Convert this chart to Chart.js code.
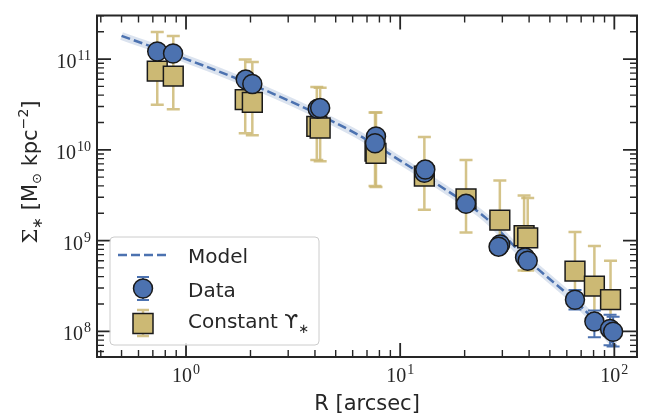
<!DOCTYPE html>
<html>
<head>
<meta charset="utf-8">
<script src="https://cdn.jsdelivr.net/npm/chart.js@4.4.1/dist/chart.umd.min.js"></script>
<style>
  html, body { margin: 0; padding: 0; background: #fff; }
  #wrap { width: 655px; height: 417px; }
</style>
</head>
<body>
<div id="wrap"><canvas id="chart" width="655" height="417"></canvas></div>
<script>
// radius in arcsec, surface density in Msun / kpc^2
const modelR = [0.5, 1.0, 1.585, 2.512, 3.98, 6.31, 10, 15.85, 25.1, 39.8, 63.1, 79.4, 100];
const modelSigma = [1.8e11, 1.0e11, 6.6e10, 4.22e10, 2.57e10, 1.48e10, 7.6e9, 3.8e9, 1.78e9, 6.0e8, 2.34e8, 1.38e8, 7.1e7];

const dataR = [0.734, 0.870, 1.90, 2.04, 4.12, 4.23, 7.71, 7.63, 12.97, 13.1, 20.3, 29.3, 28.8, 38.3, 39.4, 65.5, 80.7, 95.5, 98.7];
const dataSigma = [1.21e11, 1.15e11, 5.94e10, 5.31e10, 2.83e10, 2.88e10, 1.40e10, 1.18e10, 5.57e9, 6.05e9, 2.54e9, 9.06e8, 8.57e8, 6.52e8, 6.0e8, 2.23e8, 1.28e8, 1.06e8, 9.9e7];
const dataHi = [1.33e11, 1.26e11, 6.5e10, 5.8e10, 3.1e10, 3.15e10, 1.53e10, 1.29e10, 6.1e9, 6.6e9, 2.8e9, 1.0e9, 9.4e8, 7.2e8, 6.6e8, 2.85e8, 1.70e8, 1.52e8, 1.45e8];
const dataLo = [1.10e11, 1.05e11, 5.4e10, 4.85e10, 2.58e10, 2.62e10, 1.28e10, 1.08e10, 5.1e9, 5.5e9, 2.3e9, 8.2e8, 7.8e8, 5.9e8, 5.4e8, 1.74e8, 8.6e7, 7.0e7, 6.8e7];

const constR = [0.734, 0.872, 1.89, 2.04, 4.08, 4.23, 7.63, 7.71, 12.97, 20.3, 29.2, 37.9, 39.4, 65.5, 80.7, 96.0];
const constSigma = [7.38e10, 6.47e10, 3.57e10, 3.34e10, 1.81e10, 1.74e10, 9.7e9, 9.14e9, 5.13e9, 2.88e9, 1.68e9, 1.13e9, 1.07e9, 4.6e8, 3.15e8, 2.23e8];
const constHi = [1.99e11, 1.79e11, 9.86e10, 9.3e10, 4.92e10, 4.84e10, 2.57e10, 2.57e10, 1.38e10, 7.74e9, 4.6e9, 3.13e9, 2.95e9, 1.24e9, 8.7e8, 6.0e8];
const constLo = [3.13e10, 2.79e10, 1.52e10, 1.45e10, 7.7e9, 7.5e9, 4.0e9, 3.9e9, 2.19e9, 1.23e9, 8.0e8, 4.69e8, 4.69e8, 2.0e8, 1.3e8, 1.0e8];

const xTicks = [1, 10, 100];
const yTicks = [1e8, 1e9, 1e10, 1e11];
const xRange = [0.384, 127.6];
const yRange = [5.21e7, 3.02e11];

const BLUE = '#4C72B0';
const TAN = '#CCB974';
const INK = '#262626';
const EDGE = '#1a1a1a';

const pts = (xs, ys) => xs.map((x, i) => ({ x: x, y: ys[i] }));

// vertical error bars drawn just under their own markers
const errorBars = {
    id: 'errorBars',
    beforeDatasetDraw(chart, args) {
        const ds = chart.data.datasets[args.index];
        if (!ds.errLo) return;
        const ys = chart.scales.y;
        const ctx = chart.ctx;
        ctx.save();
        ctx.strokeStyle = ds.errColor;
        ctx.lineWidth = ds.errWidth;
        args.meta.data.forEach((p, i) => {
            const top = ys.getPixelForValue(ds.errHi[i]);
            const bot = ys.getPixelForValue(ds.errLo[i]);
            ctx.beginPath();
            ctx.moveTo(p.x, top); ctx.lineTo(p.x, bot);
            ctx.moveTo(p.x - 6.5, top); ctx.lineTo(p.x + 6.5, top);
            ctx.moveTo(p.x - 6.5, bot); ctx.lineTo(p.x + 6.5, bot);
            ctx.stroke();
        });
        ctx.restore();
    }
};

function drawPow(ctx, exp, x, y, align) {
    ctx.font = '20px "Liberation Serif"';
    const wb = ctx.measureText('10').width;
    ctx.font = '14px "Liberation Serif"';
    const we = ctx.measureText(exp).width;
    const total = wb + we + 1;
    const x0 = align === 'center' ? x - total / 2 : x - total;
    ctx.textAlign = 'left';
    ctx.textBaseline = 'alphabetic';
    ctx.font = '20px "Liberation Serif"';
    ctx.fillText('10', x0, y);
    ctx.font = '14px "Liberation Serif"';
    ctx.fillText(exp, x0 + wb + 1, y - 8);
}

function drawPieces(ctx, pieces, x0, y0) {
    let x = x0;
    pieces.forEach(p => {
        ctx.font = p.font;
        ctx.fillText(p.t, x, y0 + (p.dy || 0));
        x += ctx.measureText(p.t).width;
    });
    return x;
}

function piecesWidth(ctx, pieces) {
    let w = 0;
    pieces.forEach(p => { ctx.font = p.font; w += ctx.measureText(p.t).width; });
    return w;
}

const frame = {
    id: 'frame',
    afterDraw(chart) {
        const ctx = chart.ctx;
        const a = chart.chartArea;
        const xs = chart.scales.x, ys = chart.scales.y;
        ctx.save();
        ctx.strokeStyle = INK;
        ctx.fillStyle = INK;

        // inward ticks on all four sides
        for (let e = -1; e <= 2; e++) {
            for (let k = 1; k <= 9; k++) {
                const v = k * Math.pow(10, e);
                if (v < xRange[0] || v > xRange[1]) continue;
                const px = xs.getPixelForValue(v);
                const len = k === 1 ? 14 : 7;
                ctx.lineWidth = k === 1 ? 1.8 : 1.4;
                ctx.beginPath();
                ctx.moveTo(px, a.bottom); ctx.lineTo(px, a.bottom - len);
                ctx.moveTo(px, a.top); ctx.lineTo(px, a.top + len);
                ctx.stroke();
            }
        }
        for (let e = 7; e <= 11; e++) {
            for (let k = 1; k <= 9; k++) {
                const v = k * Math.pow(10, e);
                if (v < yRange[0] || v > yRange[1]) continue;
                const py = ys.getPixelForValue(v);
                const len = k === 1 ? 14 : 7;
                ctx.lineWidth = k === 1 ? 1.8 : 1.4;
                ctx.beginPath();
                ctx.moveTo(a.left, py); ctx.lineTo(a.left + len, py);
                ctx.moveTo(a.right, py); ctx.lineTo(a.right - len, py);
                ctx.stroke();
            }
        }

        ctx.lineWidth = 2;
        ctx.strokeRect(a.left, a.top, a.right - a.left, a.bottom - a.top);

        // tick labels
        xTicks.forEach(v => drawPow(ctx, String(Math.round(Math.log10(v))), xs.getPixelForValue(v), a.bottom + 25, 'center'));
        yTicks.forEach(v => drawPow(ctx, String(Math.round(Math.log10(v))), a.left - 6, ys.getPixelForValue(v) + 9, 'right'));

        // y axis title
        const ytitle = [
            { t: 'Σ', font: '21px "DejaVu Serif"' },
            { t: '∗', font: '14px "DejaVu Sans"', dy: 5 },
            { t: ' [M', font: '21px "DejaVu Sans"' },
            { t: '⊙', font: '13px "DejaVu Sans"', dy: 4 },
            { t: ' kpc', font: '21px "DejaVu Sans"' },
            { t: '−2', font: '14px "DejaVu Sans"', dy: -9 },
            { t: ']', font: '21px "DejaVu Sans"' }
        ];
        ctx.save();
        ctx.translate(37, 172);
        ctx.rotate(-Math.PI / 2);
        ctx.textAlign = 'left';
        ctx.textBaseline = 'alphabetic';
        drawPieces(ctx, ytitle, -piecesWidth(ctx, ytitle) / 2, 0);
        ctx.restore();

        // legend
        const lx = 110, ly = 237, lw = 209, lh = 108;
        ctx.beginPath();
        ctx.roundRect(lx, ly, lw, lh, 4);
        ctx.fillStyle = 'rgba(255,255,255,0.85)';
        ctx.fill();
        ctx.strokeStyle = '#cccccc';
        ctx.lineWidth = 1;
        ctx.stroke();

        // model handle
        ctx.strokeStyle = BLUE;
        ctx.lineWidth = 2.5;
        ctx.setLineDash([9, 4]);
        ctx.beginPath();
        ctx.moveTo(118, 255); ctx.lineTo(168, 255);
        ctx.stroke();
        ctx.setLineDash([]);

        // data handle
        ctx.strokeStyle = BLUE;
        ctx.lineWidth = 2;
        ctx.beginPath();
        ctx.moveTo(143, 277); ctx.lineTo(143, 300);
        ctx.moveTo(137, 277); ctx.lineTo(149, 277);
        ctx.moveTo(137, 300); ctx.lineTo(149, 300);
        ctx.stroke();
        ctx.beginPath();
        ctx.arc(143, 288.5, 9.5, 0, Math.PI * 2);
        ctx.fillStyle = BLUE;
        ctx.fill();
        ctx.strokeStyle = EDGE;
        ctx.lineWidth = 1.5;
        ctx.stroke();

        // constant M/L handle
        ctx.strokeStyle = 'rgba(204,185,116,0.85)';
        ctx.lineWidth = 2.5;
        ctx.beginPath();
        ctx.moveTo(143, 310); ctx.lineTo(143, 336);
        ctx.moveTo(137, 310); ctx.lineTo(149, 310);
        ctx.moveTo(137, 336); ctx.lineTo(149, 336);
        ctx.stroke();
        ctx.fillStyle = TAN;
        ctx.fillRect(133, 313.5, 20, 20);
        ctx.strokeStyle = EDGE;
        ctx.lineWidth = 1.5;
        ctx.strokeRect(133, 313.5, 20, 20);

        ctx.fillStyle = INK;
        ctx.textAlign = 'left';
        ctx.textBaseline = 'alphabetic';
        ctx.font = '20px "DejaVu Sans"';
        ctx.fillText('Model', 188, 263);
        ctx.fillText('Data', 188, 297);
        drawPieces(ctx, [
            { t: 'Constant ϒ', font: '20px "DejaVu Sans"' },
            { t: '∗', font: '13px "DejaVu Sans"', dy: 5 }
        ], 188, 328);

        ctx.restore();
    }
};

const chart = new Chart(document.getElementById('chart'), {
    type: 'scatter',
    data: {
        datasets: [
            {
                label: 'Data',
                data: pts(dataR, dataSigma),
                pointStyle: 'circle',
                pointRadius: 9.5,
                backgroundColor: BLUE,
                borderColor: EDGE,
                borderWidth: 1.5,
                errLo: dataLo, errHi: dataHi, errColor: BLUE, errWidth: 2
            },
            {
                label: 'Constant ϒ*',
                data: pts(constR, constSigma),
                pointStyle: 'rect',
                pointRadius: 14,
                backgroundColor: TAN,
                borderColor: EDGE,
                borderWidth: 1.5,
                errLo: constLo, errHi: constHi, errColor: 'rgba(204,185,116,0.85)', errWidth: 2.5
            },
            {
                label: 'Model',
                data: pts(modelR, modelSigma),
                showLine: true,
                pointRadius: 0,
                borderColor: BLUE,
                borderWidth: 2.5,
                borderDash: [9, 4],
                cubicInterpolationMode: 'monotone'
            },
            {
                label: 'band',
                data: pts(modelR, modelSigma),
                showLine: true,
                pointRadius: 0,
                borderColor: 'rgba(76,114,176,0.2)',
                borderWidth: 8,
                cubicInterpolationMode: 'monotone'
            }
        ]
    },
    options: {
        responsive: false,
        animation: false,
        devicePixelRatio: 1,
        events: [],
        layout: { padding: { left: 0, right: 18, top: 7, bottom: 0 } },
        scales: {
            x: {
                type: 'logarithmic',
                min: xRange[0],
                max: xRange[1],
                grid: { display: false },
                border: { display: false },
                ticks: { display: false },
                title: {
                    display: true,
                    text: 'R [arcsec]',
                    color: INK,
                    font: { family: 'DejaVu Sans', size: 21 },
                    padding: { top: 2, bottom: 0 }
                },
                afterFit: s => { s.height = 60; }
            },
            y: {
                type: 'logarithmic',
                min: yRange[0],
                max: yRange[1],
                grid: { display: false },
                border: { display: false },
                ticks: { display: false },
                afterFit: s => { s.width = 97; }
            }
        },
        plugins: {
            legend: { display: false },
            tooltip: { enabled: false }
        }
    },
    plugins: [errorBars, frame]
});
</script>
</body>
</html>
